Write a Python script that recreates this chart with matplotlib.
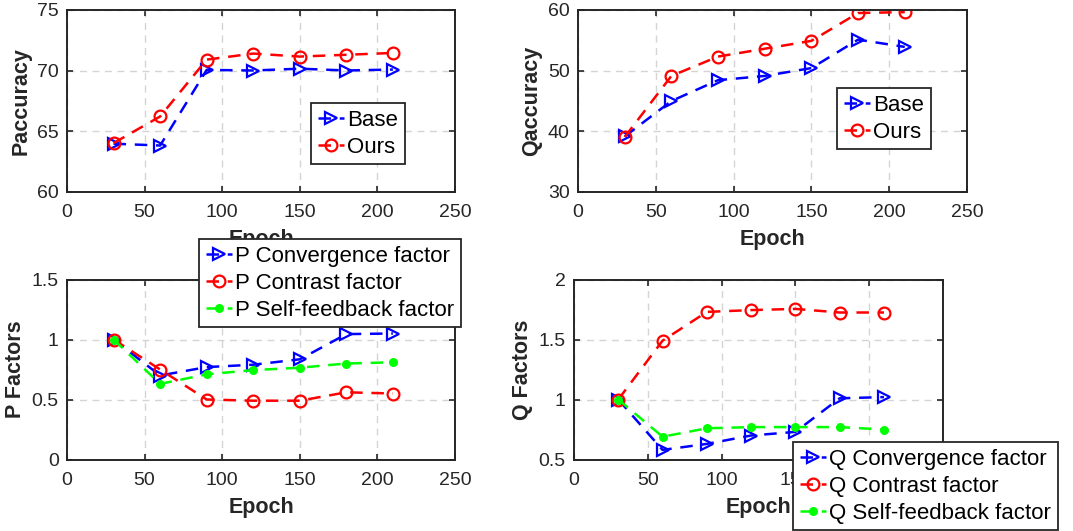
import matplotlib
matplotlib.use('Agg')
import matplotlib.pyplot as plt

plt.rcParams['font.family'] = ['Liberation Sans', 'DejaVu Sans']

epoch = [30, 60, 90, 120, 150, 180, 210]

p_base = [63.95, 63.8, 70.05, 70.0, 70.15, 70.0, 70.08]
p_ours = [64.0, 66.2, 70.9, 71.4, 71.15, 71.3, 71.45]

q_base = [39.1, 44.95, 48.4, 49.1, 50.4, 55.1, 53.9]
q_ours = [39.0, 49.1, 52.3, 53.6, 54.9, 59.5, 59.65]

p_conv = [1.0, 0.70, 0.77, 0.79, 0.835, 1.045, 1.05]
p_contrast = [1.0, 0.75, 0.50, 0.49, 0.49, 0.56, 0.55]
p_self = [1.0, 0.63, 0.71, 0.745, 0.765, 0.80, 0.81]

q_conv = [1.0, 0.58, 0.63, 0.70, 0.73, 1.01, 1.02]
q_contrast = [1.0, 1.49, 1.73, 1.745, 1.755, 1.725, 1.725]
q_self = [1.0, 0.69, 0.76, 0.77, 0.77, 0.77, 0.75]

W, H = 1073, 531
fig = plt.figure(figsize=(W / 100, H / 100), dpi=100)
DARK = '#262626'


def make_ax(x0, y0, x1, y1):
    # pixel box -> figure fraction
    return fig.add_axes([x0 / W, 1 - y1 / H, (x1 - x0) / W, (y1 - y0) / H])


def style(ax, ylim, yticks, ylabel):
    ax.set_xlim(0, 250)
    ax.set_xticks([0, 50, 100, 150, 200, 250])
    ax.set_ylim(*ylim)
    ax.set_yticks(yticks)
    ax.set_yticklabels([f'{t:g}' for t in yticks])
    ax.grid(True, color='#d4d4d4', linestyle=(0, (5, 4)), linewidth=1.0)
    ax.set_axisbelow(True)
    ax.tick_params(direction='in', top=True, right=True, length=4,
                   width=1.2, colors=DARK, labelsize=14)
    ax.tick_params(axis='x', pad=9)
    ax.tick_params(axis='y', pad=6)
    for s in ax.spines.values():
        s.set_color(DARK)
        s.set_linewidth(1.4)
    ax.set_xlabel('Epoch', fontsize=15.5, fontweight='bold', color=DARK, labelpad=6)
    ax.set_ylabel(ylabel, fontsize=15.5, fontweight='bold', color=DARK, labelpad=4)


def leg(ax, x, y):
    lg = ax.legend(loc='upper left', bbox_to_anchor=(x / W, 1 - y / H),
                   bbox_transform=fig.transFigure, fontsize=16, frameon=True,
                   fancybox=False, framealpha=1, edgecolor=DARK,
                   borderaxespad=0, borderpad=0.3, handlelength=1.2,
                   handletextpad=0.12, labelspacing=0.27)
    lg.get_frame().set_linewidth(1.3)
    return lg


kw = dict(linestyle='--', linewidth=1.8, dashes=(5, 3.5))

# top-left
ax1 = make_ax(67, 10, 455, 191.5)
ax1.plot(epoch, p_base, color='b', marker='>', mfc='none', ms=8.5, mew=1.6, label='Base', **kw)
ax1.plot(epoch, p_ours, color='r', marker='o', mfc='none', ms=8.5, mew=1.6, label='Ours', **kw)
style(ax1, (60, 75), [60, 65, 70, 75], 'Paccuracy')
leg(ax1, 311, 103)

# top-right
ax2 = make_ax(578, 10, 967, 191.5)
ax2.plot(epoch, q_base, color='b', marker='>', mfc='none', ms=8.5, mew=1.6, label='Base', **kw)
ax2.plot(epoch, q_ours, color='r', marker='o', mfc='none', ms=8.5, mew=1.6, label='Ours', **kw)
style(ax2, (30, 60), [30, 40, 50, 60], 'Qaccuracy')
leg(ax2, 837, 88)

# bottom-left
ax3 = make_ax(67, 279.5, 455, 459.5)
ax3.plot(epoch, p_conv, color='b', marker='>', mfc='none', ms=8.5, mew=1.6, label='P Convergence factor', **kw)
ax3.plot(epoch, p_contrast, color='r', marker='o', mfc='none', ms=8.5, mew=1.6, label='P Contrast factor', **kw)
ax3.plot(epoch, p_self, color='#00ff00', marker='o', ms=6.5, mew=0, label='P Self-feedback factor', **kw)
style(ax3, (0, 1.5), [0, 0.5, 1, 1.5], 'P Factors')
leg(ax3, 199, 239)

# bottom-right
ax4 = make_ax(574, 279.5, 943, 459.5)
ax4.plot(epoch, q_conv, color='b', marker='>', mfc='none', ms=8.5, mew=1.6, label='Q Convergence factor', **kw)
ax4.plot(epoch, q_contrast, color='r', marker='o', mfc='none', ms=8.5, mew=1.6, label='Q Contrast factor', **kw)
ax4.plot(epoch, q_self, color='#00ff00', marker='o', ms=6.5, mew=0, label='Q Self-feedback factor', **kw)
style(ax4, (0.5, 2), [0.5, 1, 1.5, 2], 'Q Factors')
leg(ax4, 793, 442)

fig.savefig('out.png', dpi=100)
